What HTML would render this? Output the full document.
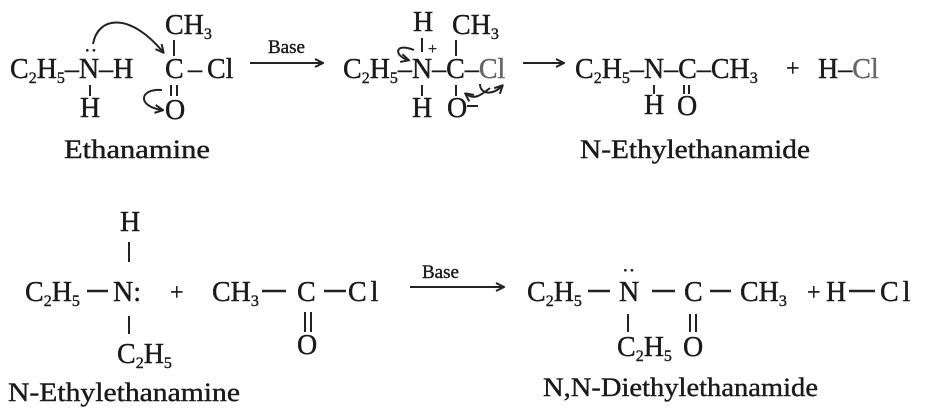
<!DOCTYPE html>
<html><head><meta charset="utf-8"><style>
html,body{margin:0;padding:0;background:#fff;width:931px;height:416px;overflow:hidden}
svg text{font-family:"Liberation Serif",serif;fill:#1a1a1a;stroke:#1a1a1a;stroke-width:0.4}
.s{font-size:16px}
</style></head><body>
<svg width="931" height="416" viewBox="0 0 931 416" xmlns="http://www.w3.org/2000/svg">
<defs><marker id="ah" markerWidth="10" markerHeight="10" refX="8" refY="5" orient="auto" markerUnits="userSpaceOnUse"><path d="M1,1 L9,5 L1,9" fill="none" stroke="#222" stroke-width="2"/></marker></defs>
<g font-size="28">
<!-- Row 1 -->
<text x="10" y="78">C<tspan class="s" dy="5">2</tspan><tspan dy="-5">H</tspan><tspan class="s" dy="5">5</tspan><tspan dy="-5">–N–H</tspan></text>
<text x="84" y="57" font-size="20">··</text>
<line x1="90" y1="85" x2="90" y2="96" stroke="#222" stroke-width="2"/>
<text x="80" y="117">H</text>
<text x="165" y="78">C</text><text x="188" y="78">–</text><text x="207" y="78" fill="#666" stroke="#666">Cl</text>
<text x="165" y="34">CH<tspan class="s" dy="5">3</tspan></text>
<line x1="174" y1="40" x2="174" y2="56" stroke="#222" stroke-width="2"/>
<line x1="171" y1="85" x2="171" y2="96" stroke="#222" stroke-width="2"/><line x1="177" y1="85" x2="177" y2="96" stroke="#222" stroke-width="2"/>
<text x="165" y="119">O</text>
<path d="M93,44 C98,16 130,12 163,52" fill="none" stroke="#222" stroke-width="2" marker-end="url(#ah)"/>
<path d="M162,90 C140,88 136,106 162,110" fill="none" stroke="#222" stroke-width="2" marker-end="url(#ah)"/>
<text x="64" y="158" font-size="26" textLength="146" lengthAdjust="spacingAndGlyphs">Ethanamine</text>
<line x1="250" y1="63" x2="322" y2="63" stroke="#222" stroke-width="2" marker-end="url(#ah)"/>
<text x="268" y="53" font-size="19">Base</text>
<!-- intermediate -->
<text x="343" y="78">C<tspan class="s" dy="5">2</tspan><tspan dy="-5">H</tspan><tspan class="s" dy="5">5</tspan><tspan dy="-5">–N–C–</tspan><tspan fill="#666" stroke="#666">Cl</tspan></text>
<text x="413" y="31">H</text>
<line x1="422" y1="38" x2="422" y2="52" stroke="#222" stroke-width="2"/>
<text x="428" y="54" font-size="16">+</text>
<text x="452" y="34">CH<tspan class="s" dy="5">3</tspan></text>
<line x1="456" y1="40" x2="456" y2="56" stroke="#222" stroke-width="2"/>
<line x1="422" y1="85" x2="422" y2="96" stroke="#222" stroke-width="2"/>
<text x="412" y="117">H</text>
<line x1="456" y1="85" x2="456" y2="96" stroke="#222" stroke-width="2"/>
<text x="447" y="117">O</text><line x1="467" y1="106" x2="478" y2="106" stroke="#222" stroke-width="2"/>
<path d="M414,50 C394,42 394,56 408,60" fill="none" stroke="#222" stroke-width="2" marker-end="url(#ah)"/>
<path d="M490,88 C480,96 474,100 466,94" fill="none" stroke="#222" stroke-width="2" marker-end="url(#ah)"/>
<path d="M480,84 C480,94 492,96 502,86" fill="none" stroke="#222" stroke-width="2" marker-end="url(#ah)"/>
<line x1="523" y1="63" x2="563" y2="63" stroke="#222" stroke-width="2" marker-end="url(#ah)"/>
<!-- product 1 -->
<text x="575" y="78">C<tspan class="s" dy="5">2</tspan><tspan dy="-5">H</tspan><tspan class="s" dy="5">5</tspan><tspan dy="-5">–N–C–CH</tspan><tspan class="s" dy="5">3</tspan></text>
<line x1="654" y1="85" x2="654" y2="94" stroke="#222" stroke-width="2"/>
<text x="644" y="114">H</text>
<line x1="684" y1="85" x2="684" y2="94" stroke="#222" stroke-width="2"/><line x1="689" y1="85" x2="689" y2="94" stroke="#222" stroke-width="2"/>
<text x="677" y="115">O</text>
<text x="786" y="76" font-size="24">+</text>
<text x="818" y="78">H–<tspan fill="#666" stroke="#666">Cl</tspan></text>
<text x="580" y="158" font-size="26" textLength="230" lengthAdjust="spacingAndGlyphs">N-Ethylethanamide</text>
<!-- Row 2 -->
<text x="120" y="231">H</text>
<line x1="129" y1="242" x2="129" y2="262" stroke="#222" stroke-width="2"/>
<text x="25" y="301">C<tspan class="s" dy="5">2</tspan><tspan dy="-5">H</tspan><tspan class="s" dy="5">5</tspan></text>
<line x1="87" y1="291" x2="108" y2="291" stroke="#222" stroke-width="2.5"/>
<text x="113" y="301">N:</text>
<line x1="129" y1="316" x2="129" y2="334" stroke="#222" stroke-width="2"/>
<text x="117" y="363">C<tspan class="s" dy="5">2</tspan><tspan dy="-5">H</tspan><tspan class="s" dy="5">5</tspan></text>
<text x="170" y="300" font-size="24">+</text>
<text x="212" y="301">CH<tspan class="s" dy="5">3</tspan></text>
<line x1="262" y1="291" x2="286" y2="291" stroke="#222" stroke-width="2.5"/>
<text x="297" y="301">C</text>
<line x1="324" y1="291" x2="346" y2="291" stroke="#222" stroke-width="2.5"/>
<text x="348" y="301" fill="#666" stroke="#666" letter-spacing="4">Cl</text>
<line x1="305" y1="312" x2="305" y2="332" stroke="#222" stroke-width="2"/><line x1="311" y1="312" x2="311" y2="332" stroke="#222" stroke-width="2"/>
<text x="297" y="354">O</text>
<text x="8" y="401" font-size="26" textLength="232" lengthAdjust="spacingAndGlyphs">N-Ethylethanamine</text>
<line x1="410" y1="287" x2="503" y2="287" stroke="#222" stroke-width="2" marker-end="url(#ah)"/>
<text x="422" y="278" font-size="19">Base</text>
<text x="527" y="301">C<tspan class="s" dy="5">2</tspan><tspan dy="-5">H</tspan><tspan class="s" dy="5">5</tspan></text>
<line x1="588" y1="291" x2="610" y2="291" stroke="#222" stroke-width="2.5"/>
<text x="619" y="301">N</text>
<text x="622" y="277" font-size="20">··</text>
<line x1="652" y1="291" x2="675" y2="291" stroke="#222" stroke-width="2.5"/>
<text x="684" y="301">C</text>
<line x1="710" y1="291" x2="731" y2="291" stroke="#222" stroke-width="2.5"/>
<text x="740" y="301">CH<tspan class="s" dy="5">3</tspan></text>
<text x="807" y="300" font-size="24">+</text>
<text x="826" y="301">H</text>
<line x1="849" y1="291" x2="875" y2="291" stroke="#222" stroke-width="2.5"/>
<text x="880" y="301" fill="#666" stroke="#666" letter-spacing="4">Cl</text>
<line x1="628" y1="314" x2="628" y2="332" stroke="#222" stroke-width="2"/>
<text x="617" y="356">C<tspan class="s" dy="5">2</tspan><tspan dy="-5">H</tspan><tspan class="s" dy="5">5</tspan></text>
<line x1="690" y1="314" x2="690" y2="332" stroke="#222" stroke-width="2"/><line x1="696" y1="314" x2="696" y2="332" stroke="#222" stroke-width="2"/>
<text x="683" y="356">O</text>
<text x="543" y="396" font-size="26" textLength="275" lengthAdjust="spacingAndGlyphs">N,N-Diethylethanamide</text>
</g>
</svg>
</body></html>
